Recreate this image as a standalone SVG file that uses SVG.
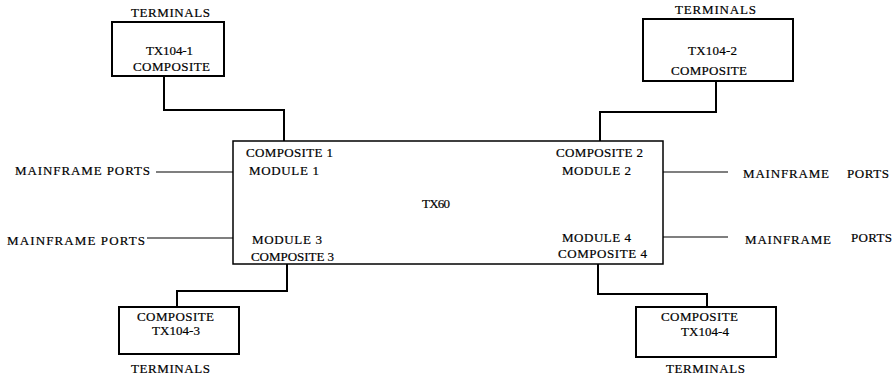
<svg xmlns="http://www.w3.org/2000/svg" width="892" height="378" viewBox="0 0 892 378">
<style>
text{font-family:"Liberation Serif","Times New Roman",serif;font-size:13px;fill:#000;stroke:#000;stroke-width:0.2}
.box{fill:#fff;stroke:#000;stroke-width:2}
.main{fill:#fff;stroke:#000;stroke-width:1.5}
.wire{fill:none;stroke:#000;stroke-width:2}
.thin{fill:none;stroke:#000;stroke-width:1.2}
</style>
<rect width="892" height="378" fill="#fff"/>
<g id="connectors">
<polyline class="wire" points="164,76 164,110 284,110 284,141"/>
<polyline class="wire" points="716,81 716,112 600,112 600,141"/>
<polyline class="wire" points="287,264 287,291 177,291 177,307"/>
<polyline class="wire" points="598,264 598,294 707,294 707,307"/>
<line class="thin" x1="156" y1="172" x2="233" y2="172"/>
<line class="thin" x1="147" y1="238" x2="233" y2="238"/>
<line class="thin" x1="663" y1="172" x2="728" y2="172"/>
<line class="thin" x1="663" y1="237" x2="728" y2="237"/>
</g>
<g id="tx60">
<rect class="main" x="233" y="141" width="430" height="123"/>
<text x="246" y="157" textLength="87" lengthAdjust="spacing">COMPOSITE 1</text>
<text x="249" y="175" textLength="70" lengthAdjust="spacing">MODULE 1</text>
<text x="252" y="244" textLength="70" lengthAdjust="spacing">MODULE 3</text>
<text x="251" y="261" textLength="83" lengthAdjust="spacing">COMPOSITE 3</text>
<text x="556" y="157" textLength="87" lengthAdjust="spacing">COMPOSITE 2</text>
<text x="562" y="175" textLength="69" lengthAdjust="spacing">MODULE 2</text>
<text x="562" y="242" textLength="69" lengthAdjust="spacing">MODULE 4</text>
<text x="558" y="258" textLength="89" lengthAdjust="spacing">COMPOSITE 4</text>
<text x="422" y="208" textLength="28" lengthAdjust="spacing">TX60</text>
</g>
<g id="tx104-1">
<text x="131" y="17" textLength="79" lengthAdjust="spacing">TERMINALS</text>
<rect class="box" x="112" y="22" width="112" height="54"/>
<text x="146" y="55" textLength="47" lengthAdjust="spacing">TX104-1</text>
<text x="133" y="71" textLength="77" lengthAdjust="spacing">COMPOSITE</text>
</g>
<g id="tx104-2">
<text x="675" y="14" textLength="81" lengthAdjust="spacing">TERMINALS</text>
<rect class="box" x="643" y="19" width="150" height="62"/>
<text x="688" y="55" textLength="49" lengthAdjust="spacing">TX104-2</text>
<text x="671" y="75" textLength="76" lengthAdjust="spacing">COMPOSITE</text>
</g>
<g id="tx104-3">
<rect class="box" x="119" y="307" width="120" height="47"/>
<text x="137" y="321" textLength="77" lengthAdjust="spacing">COMPOSITE</text>
<text x="152" y="335" textLength="48" lengthAdjust="spacing">TX104-3</text>
<text x="131" y="373" textLength="79" lengthAdjust="spacing">TERMINALS</text>
</g>
<g id="tx104-4">
<rect class="box" x="636" y="307" width="140" height="50"/>
<text x="661" y="321" textLength="77" lengthAdjust="spacing">COMPOSITE</text>
<text x="681" y="336" textLength="48" lengthAdjust="spacing">TX104-4</text>
<text x="666" y="373" textLength="79" lengthAdjust="spacing">TERMINALS</text>
</g>
<g id="mainframe-ports-1">
<text x="15" y="175" textLength="135" lengthAdjust="spacing">MAINFRAME PORTS</text>
</g>
<g id="mainframe-ports-3">
<text x="7" y="245" textLength="138" lengthAdjust="spacing">MAINFRAME  PORTS</text>
</g>
<g id="mainframe-ports-2">
<text x="743" y="178" textLength="86" lengthAdjust="spacing">MAINFRAME</text>
<text x="847" y="178" textLength="42" lengthAdjust="spacing">PORTS</text>
</g>
<g id="mainframe-ports-4">
<text x="745" y="244" textLength="86" lengthAdjust="spacing">MAINFRAME</text>
<text x="851" y="242" textLength="41" lengthAdjust="spacing">PORTS</text>
</g>
</svg>
